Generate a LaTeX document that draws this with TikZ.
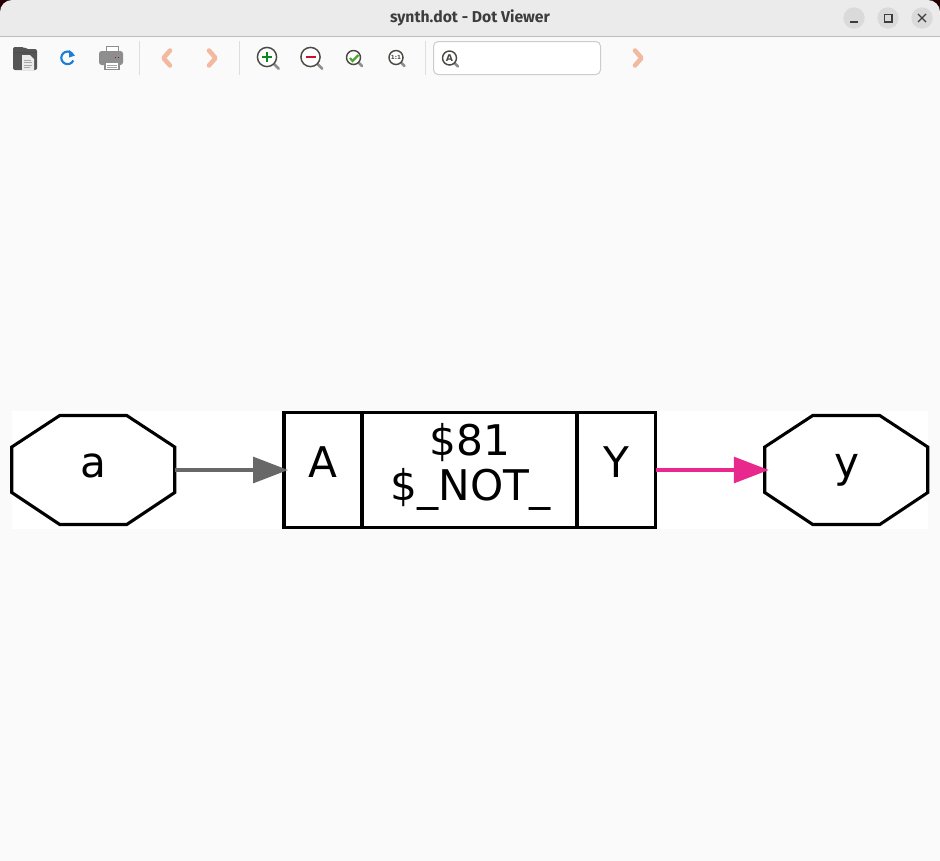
\documentclass[tikz,border=0pt]{standalone}
\usepackage{fontspec}
\setmainfont{DejaVu Sans}
\newfontfamily\titlefont{Fira Sans}
\usetikzlibrary{arrows.meta,calc}
\definecolor{winbg}{HTML}{FAFAFA}
\definecolor{titlebg}{HTML}{EBEBEB}
\definecolor{titleline}{HTML}{BDBDBD}
\definecolor{titletext}{HTML}{3D3D3D}
\definecolor{btnbg}{HTML}{DADADA}
\definecolor{sepcol}{HTML}{DEDEDE}
\definecolor{wiregray}{HTML}{686868}
\definecolor{wirepink}{HTML}{E9288E}
\definecolor{chevfill}{HTML}{F2B9A0}
\definecolor{iconblue}{HTML}{1C7FD6}
\definecolor{icondark}{HTML}{555555}
\definecolor{icongray}{HTML}{8E8E8E}
\definecolor{lensring}{HTML}{4A4A44}
\definecolor{plusgreen}{HTML}{0A8A20}
\definecolor{minusred}{HTML}{C4122F}
\definecolor{checkgreen}{HTML}{4CA82C}
\def\px{0.75pt}
\tikzset{
  x=0.75pt, y=-0.75pt,
  stroke/.style={draw=black, line width=2.3pt, line join=miter},
  portbox/.style={inner sep=0pt, outer sep=0pt, minimum width=163*\px, minimum height=109*\px},
  cellbox/.style={stroke, fill=white, inner sep=0pt, outer sep=0pt, minimum height=115*\px},
  biglabel/.style={font=\fontsize{31.7}{33}\selectfont, inner sep=0pt, anchor=base, text=black},
  wire/.style={line width=2.3pt, -{Triangle[length=35*\px, width=26*\px]}, shorten >=-4*\px},
  sepline/.style={draw=sepcol, line width=0.75pt},
  chev/.style={draw=chevfill, line width=3.4pt, line cap=round, line join=round},
  lens/.style={draw=lensring, line width=1.1pt, fill=white},
  lenshandle/.style={draw=icongray, line width=1.9pt, line cap=round},
}
\newcommand{\octagon}[1]{%
  \draw[stroke, fill=white]
    ($(#1.west)+(0,-23)$) -- ($(#1.north west)+(48,0)$) -- ($(#1.north east)+(-48,0)$)
    -- ($(#1.east)+(0,-23)$) -- ($(#1.east)+(0,22.5)$) -- ($(#1.south east)+(-48,0)$)
    -- ($(#1.south west)+(48,0)$) -- ($(#1.west)+(0,22.5)$) -- cycle;}
\newcommand{\lensicon}[3]{%
  \draw[lenshandle] (#1+#3*0.7,#2+#3*0.7) -- (#1+#3*1.22,#2+#3*1.22);
  \draw[lens] (#1,#2) circle[radius=#3];}
\begin{document}
\begin{tikzpicture}
\useasboundingbox (0,0) rectangle (940,861);
% window
\fill[winbg] (0,0) rectangle (940,861);
\fill[black!85!red] (0,0) rectangle (14,14);
\fill[black!85!red] (926,0) rectangle (940,14);
\fill[titlebg, rounded corners=9pt] (0,0) rectangle (940,30);
\fill[titlebg] (0,14) rectangle (940,36);
\fill[titleline] (0,36) rectangle (940,37);
\node[font=\titlefont\bfseries\fontsize{11.8}{13}\selectfont, text=titletext, inner sep=0pt] (title) at (470,17.5) {synth.dot - Dot Viewer};
% window buttons
\fill[btnbg] (854,18) circle[radius=10.7];
\fill[btnbg] (888,18) circle[radius=10.7];
\fill[btnbg] (922,18) circle[radius=10.7];
\draw[titletext, line width=0.85pt] (850,22) -- (858,22);
\draw[titletext, line width=0.85pt] (884.5,14.5) rectangle (892,22);
\draw[titletext, line width=0.85pt] (918,14) -- (926,22) (926,14) -- (918,22);
% toolbar: folder
\fill[icondark, rounded corners=1.5pt] (13,47) -- (24,47) -- (26,49) -- (37,49) -- (37,70) -- (13,70) -- cycle;
\draw[gray!60!black, line width=0.5pt] (13.5,52) -- (36.5,52);
\fill[white!92!black] (22,55) -- (30,55) -- (34,59) -- (34,70) -- (22,70) -- cycle;
\draw[gray!70, line width=0.5pt] (24,60) -- (31,60) (24,62.5) -- (32,62.5) (24,65) -- (32,65) (24,67.5) -- (30,67.5);
% reload
\draw[iconblue, line width=1.6pt] (73.3,60.5) arc[start angle=25, end angle=325, radius=6.3];
\fill[iconblue] (69,50) -- (75,55.5) -- (69,57.5) -- cycle;
% printer
\fill[white, draw=icongray, line width=0.6pt] (106,46.5) rectangle (118,54);
\fill[icongray, rounded corners=2pt] (99,51) rectangle (123,65);
\fill[red!70!black] (115,57) rectangle (116,58);
\fill[red!70!black] (118,57) rectangle (119,58);
\fill[white, draw=icongray, line width=0.8pt] (105,62) rectangle (119,69.5);
\draw[gray!70, line width=0.5pt] (107,65) -- (117,65) (107,67) -- (117,67);
% separators
\draw[sepline] (139.5,41) -- (139.5,75);
\draw[sepline] (239.5,41) -- (239.5,75);
\draw[sepline] (425.5,41) -- (425.5,75);
% chevrons
\draw[chev] (170,50.5) -- (163.5,58) -- (170,65.5);
\draw[chev] (209,50.5) -- (215.5,58) -- (209,65.5);
\draw[chev] (635,50.5) -- (641.5,58) -- (635,65.5);
% zoom icons
\lensicon{267}{57}{9.6}
\draw[plusgreen, line width=1.7pt] (262,57) -- (272,57) (267,52) -- (267,62);
\lensicon{310.5}{57}{9.6}
\draw[minusred, line width=1.7pt] (305.5,57) -- (315.5,57);
\lensicon{353.5}{57.5}{7}
\draw[checkgreen, line width=1.6pt] (350,58) -- (352.5,61) -- (358.5,55);
\lensicon{396}{57.5}{7}
\node[font=\fontsize{4.2}{5}\selectfont\bfseries, text=lensring, inner sep=0pt] (oneone) at (396,57.5) {1:1};
% search box
\draw[fill=white, draw=black!20, line width=0.75pt, rounded corners=3.5pt] (433.5,41.5) rectangle (600.5,74.5);
\lensicon{449.5}{58}{7}
\node[font=\fontsize{7}{8}\selectfont\bfseries, text=lensring, inner sep=0pt] (searchA) at (449.5,58) {A};
% graph canvas
\fill[white] (12,411) rectangle (928,529);
% port nodes
\node[portbox] (a) at (93.25,470) {};
\node[portbox] (y) at (846.25,470) {};
\octagon{a}
\octagon{y}
% cell
\node[cellbox, minimum width=78*\px] (cellA) at (323,470) {};
\node[cellbox, minimum width=215*\px] (cellmid) at (469.5,470) {};
\node[cellbox, minimum width=78.5*\px] (cellY) at (616.5,470) {};
% labels
\node[biglabel] (la) at (93,477) {a};
\node[biglabel] (ly) at (847,477) {y};
\node[biglabel] (lA) at (322.5,477) {A};
\node[biglabel] (lY) at (616,477) {Y};
\node[biglabel] (l81) at (470,455) {\$81};
\node[biglabel] (lnot) at (470.5,500) {\$\_NOT\_};
% wires
\draw[wire, draw=wiregray, fill=wiregray] (a.east) -- (cellA.west);
\draw[wire, draw=wirepink, fill=wirepink] (cellY.east) -- (y.west);
\end{tikzpicture}
\end{document}
